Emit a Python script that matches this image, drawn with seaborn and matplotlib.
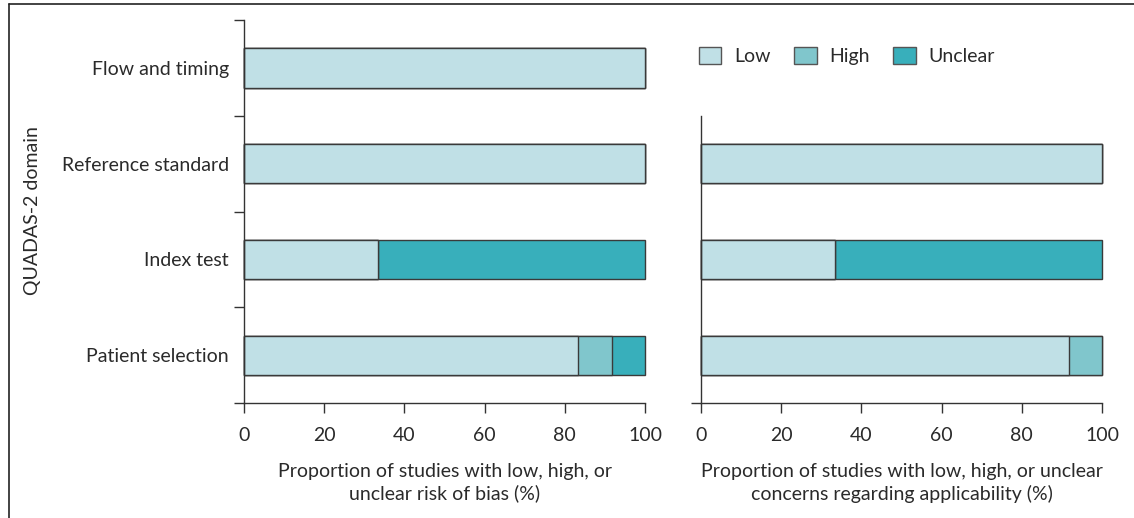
import numpy as np
import pandas as pd
import matplotlib
matplotlib.use("Agg")
import matplotlib.pyplot as plt
from matplotlib.lines import Line2D
from matplotlib.patches import Patch
import seaborn as sns

# QUADAS-2 domains, top to bottom
domains = ["Flow and timing", "Reference standard", "Index test", "Patient selection"]

# Risk of bias (%), per domain
bias_low = [100.0, 100.0, 33.3, 83.3]
bias_high = [0.0, 0.0, 0.0, 8.35]
bias_unclear = [0.0, 0.0, 66.7, 8.35]

# Applicability concerns (%), no flow-and-timing domain
appl_domains = ["Reference standard", "Index test", "Patient selection"]
appl_low = [100.0, 33.3, 91.7]
appl_high = [0.0, 0.0, 8.3]
appl_unclear = [0.0, 66.7, 0.0]

levels = ["Low", "High", "Unclear"]
colors = {"Low": "#c0e0e6", "High": "#80c6cc", "Unclear": "#38afbb"}
edge = "#3a3a3a"

xticks = [0, 20, 40, 60, 80, 100]
xlabel_bias = "Proportion of studies with low, high, or\nunclear risk of bias (%)"
xlabel_appl = "Proportion of studies with low, high, or unclear\nconcerns regarding applicability (%)"
ylabel = "QUADAS-2 domain"

sns.set_theme(style="white")
plt.rcParams["font.family"] = ["Lato", "DejaVu Sans"]
plt.rcParams["axes.edgecolor"] = "#333333"
plt.rcParams["xtick.color"] = "#333333"
plt.rcParams["ytick.color"] = "#333333"
text_color = "#2a2a2a"
fs = 14

fig = plt.figure(figsize=(11.34, 5.18), dpi=100)
ax1 = fig.add_axes([0.2152, 0.222, 0.3536, 0.739])
ax2 = fig.add_axes([0.6182, 0.222, 0.3536, 0.739])


def stacked(ax, cats, low, high, unclear):
    df = pd.DataFrame({"domain": cats, "Low": low, "High": high, "Unclear": unclear})
    df["cum_high"] = df["Low"] + df["High"]
    df["cum_unclear"] = df["cum_high"] + df["Unclear"]
    # draw cumulative totals back to front so each segment shows its own colour
    for col, lev in [("cum_unclear", "Unclear"), ("cum_high", "High"), ("Low", "Low")]:
        sns.barplot(data=df, y="domain", x=col, order=domains, orient="h",
                    color=colors[lev], saturation=1, width=0.41,
                    edgecolor=edge, linewidth=1.0, ax=ax)
    for p in ax.patches:
        p.set_clip_on(False)


stacked(ax1, domains, bias_low, bias_high, bias_unclear)
stacked(ax2, appl_domains, appl_low, appl_high, appl_unclear)

for ax, xl in [(ax1, xlabel_bias), (ax2, xlabel_appl)]:
    ax.set_xlim(0, 100)
    ax.set_ylim(3.5, -0.5)
    ax.set_xticks(xticks)
    ax.set_xticklabels([str(t) for t in xticks], fontsize=fs, color=text_color)
    ax.tick_params(axis="x", direction="out", length=7, width=1, pad=10,
                   bottom=True)
    ax.set_xlabel(xl, fontsize=fs, color=text_color, labelpad=14, linespacing=1.3)
    ax.set_ylabel("")
    for s in ["top", "right"]:
        ax.spines[s].set_visible(False)
    ax.spines["left"].set_linewidth(1)
    ax.spines["bottom"].set_linewidth(1)

# left panel: boundary ticks between rows, labels centred on rows
ax1.set_yticks([-0.5, 0.5, 1.5, 2.5, 3.5])
ax1.set_yticklabels([])
ax1.set_yticks(range(len(domains)), minor=True)
ax1.set_yticklabels(domains, minor=True, fontsize=fs, color=text_color)
ax1.tick_params(axis="y", which="major", direction="out", length=7, width=1, left=True)
ax1.tick_params(axis="y", which="minor", length=0, pad=11, left=True)
fig.text(0.029, 0.593, ylabel, rotation=90, ha="center", va="center",
         fontsize=fs, color=text_color)

# right panel: spine covers only its three domains
ax2.spines["left"].set_bounds(3.5, 0.5)
ax2.set_yticks([3.5])
ax2.set_yticklabels([])
ax2.tick_params(axis="y", direction="out", length=7, width=1, left=True)

handles = [Patch(facecolor=colors[l], edgecolor="#555555", linewidth=1, label=l) for l in levels]
fig.legend(handles=handles, loc="center left", bbox_to_anchor=(0.601, 0.892),
           ncol=3, frameon=False, fontsize=fs, handlelength=1.15, handleheight=0.95,
           columnspacing=1.2, handletextpad=0.67, labelcolor=text_color)

# outer frame (left and top edges)
fig.add_artist(Line2D([0.0075, 0.0075], [0.0, 0.993], transform=fig.transFigure,
                      color="#222222", linewidth=1.2))
fig.add_artist(Line2D([0.0075, 1.0], [0.993, 0.993], transform=fig.transFigure,
                      color="#222222", linewidth=1.2))

fig.savefig("out.png", dpi=100)
